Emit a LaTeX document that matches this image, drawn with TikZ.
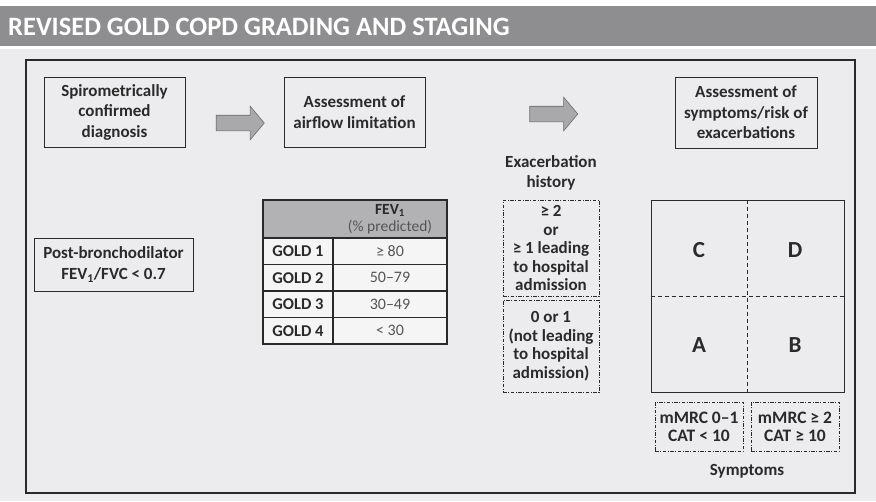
\documentclass[tikz,border=0pt]{standalone}
\usepackage{fontspec}
\setmainfont{Carlito}
\usepackage{xcolor}
\usetikzlibrary{positioning,shapes.arrows}
\definecolor{bg}{HTML}{ECECEE}
\definecolor{hdr}{HTML}{8E8E90}
\definecolor{ink}{HTML}{2B2A2B}
\definecolor{cellbg}{HTML}{F5F5F6}
\definecolor{hdfill}{HTML}{B2B2B4}
\definecolor{valink}{HTML}{555555}
\definecolor{arrowfill}{HTML}{A9A9AB}
\definecolor{arrowline}{HTML}{6A6A6C}
\begin{document}
\begin{tikzpicture}[x=1pt, y=-1pt,
  box/.style = {draw=ink, line width=1pt, fill=bg, align=center, inner sep=0pt, text=ink, font=\bfseries\fontsize{17}{20.5}\selectfont},
  exbox/.style = {draw=ink, line width=0.8pt, dash pattern=on 3.5pt off 1.5pt on 1pt off 1.5pt, align=center, inner sep=0pt, text=ink, font=\bfseries\fontsize{17}{18.5}\selectfont},
  label/.style = {align=center, inner sep=0pt, text=ink, font=\bfseries\fontsize{17}{20}\selectfont},
  letter/.style = {inner sep=0pt, text=ink, font=\bfseries\fontsize{23}{26}\selectfont},
  cell/.style = {draw=ink, line width=1.2pt, fill=cellbg, inner sep=0pt, outer sep=0pt, minimum height=26.5pt},
  gold/.style = {cell, minimum width=70pt, text=ink, font=\bfseries\fontsize{16.5}{19}\selectfont},
  val/.style = {cell, minimum width=114pt, text=valink, font=\fontsize{16}{19}\selectfont},
  bigarrow/.style = {single arrow, draw=arrowline, fill=arrowfill, line width=0.6pt, inner xsep=0pt, inner ysep=7.5pt, minimum height=48pt, single arrow head extend=9pt, single arrow tip angle=100}]
\useasboundingbox (0,0) rectangle (876,501);
\fill[white] (0,0) rectangle (876,501);
\fill[bg] (0,49) rectangle (876,501);
\fill[hdr] (0,6) rectangle (876,46);
\node[anchor=west, inner sep=0pt, text=white, font=\bfseries\fontsize{26.5}{30}\selectfont] (title) at (8,27) {REVISED GOLD COPD GRADING AND STAGING};
\draw[ink, line width=1.2pt, fill=bg] (26,60) rectangle (855,493);

% top row
\node[box, minimum width=141pt, minimum height=70pt] (spiro) at (114.5,112) {Spirometrically\\confirmed\\diagnosis};
\node[box, minimum width=141pt, minimum height=70pt] (airflow) at (354.5,112) {Assessment of\\airflow limitation};
\node[box, minimum width=142pt, minimum height=71pt] (risk) at (746,112.5) {Assessment of\\symptoms/risk of\\exacerbations};
\node[bigarrow] (arr1) at (237,123) {};
\node[bigarrow] (arr2) at (550.5,114) {};

% spirometry
\node[box, minimum width=159pt, minimum height=53pt] (post) at (113.5,264.5) {Post-bronchodilator\\FEV\textsubscript{1}/FVC < 0.7};

% airflow table
\node[cell, fill=hdfill, minimum width=184pt, minimum height=38pt] (head) at (355,219) {};
\node[align=center, inner sep=0pt, text=ink, font=\fontsize{15.5}{16.5}\selectfont] (fev) at (390,219) {\textbf{FEV\textsubscript{1}}\\\textcolor{valink}{(\% predicted)}};
\node[gold] (g1) at (298,251.25) {GOLD 1};
\node[gold] (g2) [below=0pt of g1] {GOLD 2};
\node[gold] (g3) [below=0pt of g2] {GOLD 3};
\node[gold] (g4) [below=0pt of g3] {GOLD 4};
\node[val] (v1) [right=0pt of g1] {≥ 80};
\node[val] (v2) [right=0pt of g2] {50--79};
\node[val] (v3) [right=0pt of g3] {30--49};
\node[val] (v4) [right=0pt of g4] {< 30};

% exacerbations
\node[label] (hist) at (551,173) {Exacerbation\\history};
\node[exbox, minimum width=96pt, minimum height=96pt] (ex1) at (551,248) {≥ 2\\or\\≥ 1 leading\\to hospital\\admission};
\node[exbox, minimum width=96pt, minimum height=92pt] (ex2) at (551,346) {0 or 1\\(not leading\\to hospital\\admission)};

% ABCD grid
\node[draw=ink, line width=1pt, minimum width=193pt, minimum height=192pt, inner sep=0pt] (grid) at (747.5,296) {};
\draw[ink, line width=0.8pt, dash pattern=on 4pt off 3pt] (grid.north) -- (grid.south);
\draw[ink, line width=0.8pt, dash pattern=on 4pt off 3pt] (grid.west) -- (grid.east);
\node[letter] (c) at (699,250) {C};
\node[letter] (d) at (795,250) {D};
\node[letter] (a) at (699,345) {A};
\node[letter] (b) at (795,345) {B};
\node[exbox, minimum width=88pt, minimum height=49pt, font=\bfseries\fontsize{17.5}{18}\selectfont] (m1) at (699,426.5) {mMRC 0--1\\CAT < 10};
\node[exbox, minimum width=88pt, minimum height=49pt, font=\bfseries\fontsize{17.5}{18}\selectfont] (m2) at (795,426.5) {mMRC ≥ 2\\CAT ≥ 10};
\node[label] (sym) at (747,471) {Symptoms};
\end{tikzpicture}
\end{document}
